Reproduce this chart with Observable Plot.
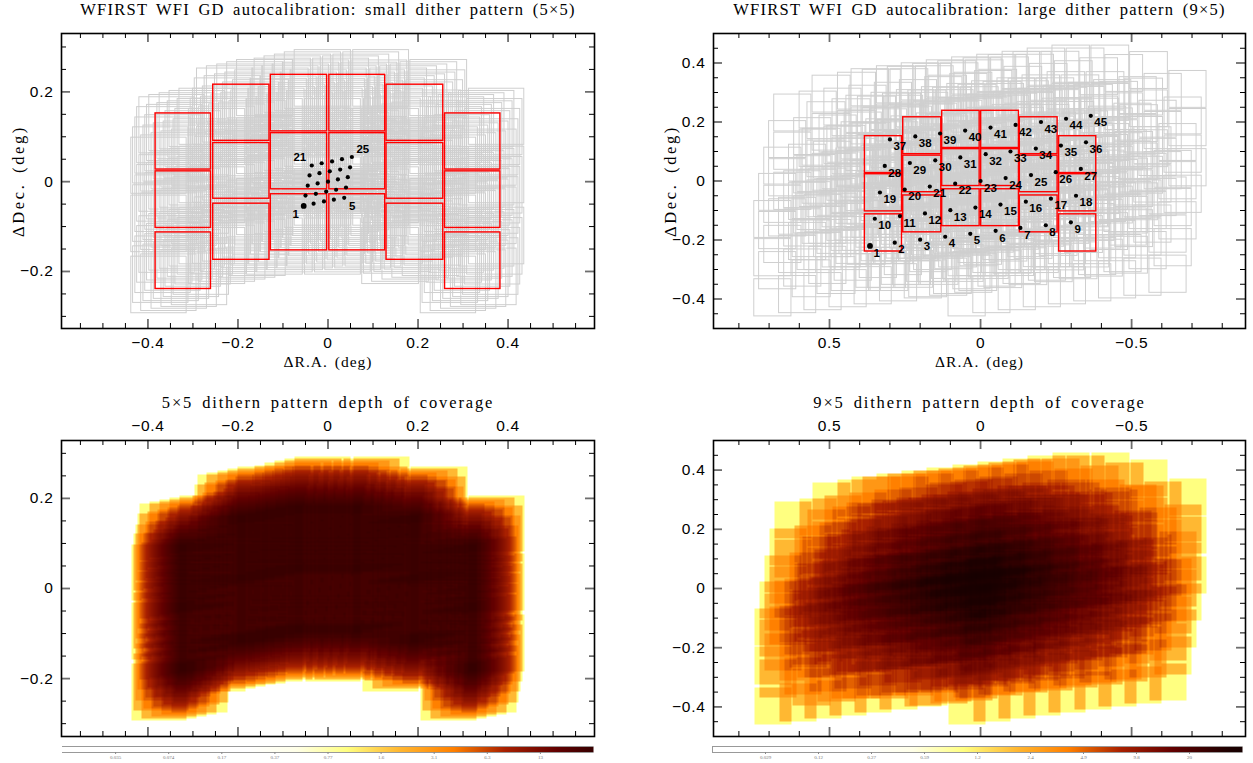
<!DOCTYPE html>
<html><head><meta charset="utf-8">
<script src="https://cdn.jsdelivr.net/npm/d3@7"></script>
<script src="https://cdn.jsdelivr.net/npm/@observablehq/plot@0.6"></script>
<style>
html,body{margin:0;padding:0;background:#fff}
#page{position:relative;width:1253px;height:763px;overflow:hidden}
.ttl text{letter-spacing:1.25px;word-spacing:3px}
.ttl2 text{letter-spacing:1.85px;word-spacing:3px}
.lab text{letter-spacing:1px;word-spacing:2px}
.laby text{letter-spacing:2.6px;word-spacing:3px}
.tk text{letter-spacing:.7px}
</style></head><body><div id="page"></div>
<script>
// Detector footprints (deg): left, right, bottom, top
const scaX1=[-0.383,-0.383,-0.383,-0.255,-0.255,-0.255,-0.127,-0.127,-0.127,0.003,0.003,0.003,0.130,0.130,0.130,0.260,0.260,0.260];
const scaX2=[-0.260,-0.260,-0.260,-0.130,-0.130,-0.130,-0.002,-0.002,-0.002,0.127,0.127,0.127,0.256,0.256,0.256,0.383,0.383,0.383];
const scaY1=[0.027,-0.103,-0.239,0.091,-0.038,-0.174,0.112,-0.017,-0.153,0.112,-0.017,-0.153,0.091,-0.038,-0.174,0.027,-0.103,-0.239];
const scaY2=[0.152,0.023,-0.113,0.216,0.086,-0.049,0.238,0.108,-0.028,0.238,0.108,-0.028,0.216,0.086,-0.049,0.152,0.023,-0.113];
// 5x5 small dither offsets (deg)
const smallDx=[-.054,-.032,-.009,.013,.036,-.050,-.027,-.004,.018,.040,-.045,-.023,0,.022,.044,-.041,-.019,.004,.027,.049,-.036,-.014,.009,.031,.053];
const smallDy=[-.054,-.049,-.044,-.040,-.036,-.031,-.027,-.022,-.018,-.013,-.009,-.004,0,.005,.010,.014,.019,.023,.027,.032,.036,.041,.045,.050,.055];
const smallLabelled=[1,5,21,25];
const smallLabelDx=[-8,8,-12,11];
const smallLabelDy=[8,8,-8,-8];
// 9x5 large dither offsets (deg)
const largeDx=[.366,.284,.200,.117,.034,-.050,-.132,-.216,-.299,.350,.267,.184,.100,.017,-.066,-.150,-.233,-.316,.333,.251,.168,.084,0,-.083,-.167,-.249,-.332,.317,.234,.150,.067,-.017,-.099,-.183,-.266,-.349,.300,.216,.134,.051,-.033,-.116,-.200,-.283,-.365];
const largeDy=[-.220,-.209,-.199,-.189,-.179,-.169,-.159,-.150,-.140,-.128,-.119,-.110,-.099,-.090,-.080,-.070,-.060,-.050,-.039,-.029,-.019,-.009,0,.010,.020,.030,.041,.051,.061,.070,.080,.091,.100,.110,.120,.131,.141,.151,.161,.171,.181,.190,.200,.211,.221];
// Axis ticks
const smallXMajor=[-.4,-.2,0,.2,.4];
const smallXMinor=[-.55,-.5,-.45,-.35,-.3,-.25,-.15,-.1,-.05,.05,.1,.15,.25,.3,.35,.45,.5,.55];
const smallYMajor=[-.2,0,.2];
const smallYMinor=[-.3,-.25,-.15,-.1,-.05,.05,.1,.15,.25,.3];
const largeXMajor=[.5,0,-.5];
const largeXMinor=[.8,.7,.6,.4,.3,.2,.1,-.1,-.2,-.3,-.4,-.6,-.7,-.8];
const largeYMajor=[-.4,-.2,0,.2,.4];
const largeYMinor=[-.45,-.35,-.3,-.25,-.15,-.1,-.05,.05,.1,.15,.25,.3,.35,.45];
// Colour bars
const barFractions=[.1,.2,.3,.4,.5,.6,.7,.8,.9];
const bar5Labels=["0.035","0.074","0.17","0.37","0.77","1.6","3.1","6.3","13"];
const bar9Labels=["0.029","0.12","0.27","0.59","1.2","2.4","4.9","9.8","20"];
const bar5Values=[.016,.035,.074,.17,.37,.77,1.6,3.1,6.3,13,25];
const bar9Values=[.012,.029,.12,.27,.59,1.2,2.4,4.9,9.8,20,38];
const depthStops=["#ffffff","#ffffe8","#ffff80","#ffb832","#ff8000","#a82000","#620000","#1e0000","#000000"];
const depthDomain=[.25,64];

const sans='"Liberation Sans",sans-serif', serif='"Liberation Serif",serif';
const depthColor={type:"log",domain:depthDomain,interpolate:d3.piecewise(d3.interpolateRgb,depthStops)};
const page=document.getElementById("page");
const fmt=d=>d===0?"0":String(d).replace("-","\u2212");

function footprints(dx,dy){
  const out=[];
  dx.forEach((ox,k)=>scaX1.forEach((_,i)=>out.push({x1:scaX1[i]+ox,x2:scaX2[i]+ox,y1:scaY1[i]+dy[k],y2:scaY2[i]+dy[k]})));
  return out;
}
const base=scaX1.map((_,i)=>({x1:scaX1[i],x2:scaX2[i],y1:scaY1[i],y2:scaY2[i]}));

function frameMarks(xMajor,xMinor,yMajor,yMinor,H,W,labelSide){
  const m=[],grey={stroke:"#6e6e6e",strokeWidth:1.8},blk={stroke:"#000",strokeWidth:1};
  m.push(Plot.tickX(xMinor,{x:d=>d,insetBottom:H-5,...blk}),Plot.tickX(xMinor,{x:d=>d,insetTop:H-5,...blk}));
  m.push(Plot.tickX(xMajor,{x:d=>d,insetBottom:H-9,...grey}),Plot.tickX(xMajor,{x:d=>d,insetTop:H-9,...grey}));
  m.push(Plot.tickY(yMinor,{y:d=>d,insetRight:W-5,...blk}),Plot.tickY(yMinor,{y:d=>d,insetLeft:W-5,...blk}));
  m.push(Plot.tickY(yMajor,{y:d=>d,insetRight:W-9,...grey}),Plot.tickY(yMajor,{y:d=>d,insetLeft:W-9,...grey}));
  m.push(Plot.frame({stroke:"#000",strokeWidth:1.6}));
  m.push(Plot.axisX(xMajor,{anchor:labelSide,tickSize:0,tickPadding:labelSide==="top"?10:8,label:null,fontSize:15.5,fontFamily:sans,className:"tk",tickFormat:fmt}));
  m.push(Plot.axisY(yMajor,{anchor:"left",tickSize:0,tickPadding:8,label:null,fontSize:15.5,fontFamily:sans,className:"tk",tickFormat:fmt}));
  return m;
}
function titleMark(t,dy,cls){return Plot.text([t],{frameAnchor:"top",dy:dy,fontSize:16.5,fontFamily:serif,className:cls,text:d=>d,fill:"#000"});}
function xLabel(){return Plot.text(["\u0394R.A. (deg)"],{frameAnchor:"bottom",dy:38,fontSize:15.5,fontFamily:serif,className:"lab",text:d=>d});}
function yLabel(dx){return Plot.text(["\u0394Dec. (deg)"],{frameAnchor:"left",textAnchor:"middle",dx:dx,rotate:-90,fontSize:16.5,fontFamily:serif,className:"laby",text:d=>d});}

function place(svg,l,t){svg.style.position="absolute";svg.style.left=l+"px";svg.style.top=t+"px";svg.style.overflow="visible";svg.style.background="transparent";page.appendChild(svg);}

function topPanel(o){
  const W=o.fr-o.fl,H=328-33;
  const svg=Plot.plot({width:W+o.fl-o.left+20,height:H+33+50,marginLeft:o.fl-o.left,marginRight:20,marginTop:33,marginBottom:50,
    x:{domain:o.xd,axis:null},y:{domain:o.yd,axis:null},
    marks:[
      Plot.rect(footprints(o.dx,o.dy),{x1:"x1",x2:"x2",y1:"y1",y2:"y2",fill:"none",stroke:"#cfcfcf",strokeWidth:1}),
      Plot.rect(base,{x1:"x1",x2:"x2",y1:"y1",y2:"y2",fill:"none",stroke:"#ff0000",strokeWidth:1.4}),
      ...o.extra,
      ...frameMarks(o.xMaj,o.xMin,o.yMaj,o.yMin,H,W,"bottom"),
      titleMark(o.title,-30,"ttl"),xLabel(),yLabel(o.ylab)
    ]});
  place(svg,o.left,0);
}
function depthPanel(o){
  const W=o.fr-o.fl,H=736-440;
  const rects=footprints(o.dx,o.dy);
  const X1=rects.map(r=>r.x1),X2=rects.map(r=>r.x2),Y1=rects.map(r=>r.y1),Y2=rects.map(r=>r.y2);
  const count=(x,y)=>{let c=0;for(let i=0;i<X1.length;i++){if(x>=X1[i]&&x<X2[i]&&y>=Y1[i]&&y<Y2[i])c++;}return c>0?c:NaN;};
  const svg=Plot.plot({width:W+o.fl-o.left+20,height:H+45+10,marginLeft:o.fl-o.left,marginRight:20,marginTop:45,marginBottom:10,
    x:{domain:o.xd,axis:null},y:{domain:o.yd,axis:null},color:depthColor,
    marks:[
      Plot.raster({fill:count,x1:o.xd[0],x2:o.xd[1],y1:o.yd[0],y2:o.yd[1],pixelSize:1}),
      ...frameMarks(o.xMaj,o.xMin,o.yMaj,o.yMin,H,W,"top"),
      titleMark(o.title,-44,"ttl2")
    ]});
  place(svg,o.left,395);
}
function colourBar(o){
  const fr=d3.range(o.values.length).map(i=>i/(o.values.length-1));
  const val=d3.scaleLog().domain(o.values).range(fr);
  const W=o.fr-o.fl;
  const svg=Plot.plot({width:W+o.fl-o.left+20,height:23,marginLeft:o.fl-o.left,marginRight:20,marginTop:6,marginBottom:11,
    x:{domain:[0,1],axis:null},y:{domain:[0,1],axis:null},color:depthColor,
    marks:[
      Plot.raster({fill:(t)=>val.invert(t),x1:0,x2:1,y1:0,y2:1,pixelSize:1}),
      Plot.ruleY([0,1],{stroke:"#999",strokeWidth:1}),
      o.closed?Plot.ruleX([0],{stroke:"#999",strokeWidth:1}):null,
      Plot.axisX(barFractions,{anchor:"bottom",tickSize:2,tickPadding:1,label:null,fontSize:5,stroke:"#888",color:"#777",fontFamily:serif,tickFormat:d=>o.labels[barFractions.indexOf(d)]})
    ]});
  place(svg,o.left,740);
}

const xs1=[-.592,.592],ys1=[-.327,.33],ys3=[-.3285,.3285];
const xs2=[.884,-.877],ys2=[-.5,.5];

const smallPts=smallDx.map((x,i)=>({x,y:smallDy[i],n:i+1}));
const largePts=largeDx.map((x,i)=>({x,y:largeDy[i],n:i+1}));

topPanel({left:0,fl:61,fr:594,xd:xs1,yd:ys1,dx:smallDx,dy:smallDy,xMaj:smallXMajor,xMin:smallXMinor,yMaj:smallYMajor,yMin:smallYMinor,
  title:"WFIRST WFI GD autocalibration: small dither pattern (5\u00d75)",ylab:-43,
  extra:[
    Plot.dot(smallPts,{x:"x",y:"y",r:2.1,fill:"#000",stroke:"none"}),
    Plot.dot([smallPts[0]],{x:"x",y:"y",r:2.9,fill:"#000",stroke:"none"}),
    ...smallLabelled.map((n,i)=>Plot.text([smallPts[n-1]],{x:"x",y:"y",text:d=>String(d.n),dx:smallLabelDx[i],dy:smallLabelDy[i],fontSize:11.5,fontWeight:700,fontFamily:sans,fill:"#000"}))
  ]});
topPanel({left:640,fl:713,fr:1245,xd:xs2,yd:ys2,dx:largeDx,dy:largeDy,xMaj:largeXMajor,xMin:largeXMinor,yMaj:largeYMajor,yMin:largeYMinor,
  title:"WFIRST WFI GD autocalibration: large dither pattern (9\u00d75)",ylab:-43,
  extra:[
    Plot.dot(largePts,{x:"x",y:"y",r:2.1,fill:"#000",stroke:"none"}),
    Plot.dot([largePts[0]],{x:"x",y:"y",r:2.9,fill:"#000",stroke:"none"}),
    Plot.text(largePts,{x:"x",y:"y",text:d=>String(d.n),dx:3.5,dy:7,textAnchor:"start",fontSize:11.5,fontWeight:700,fontFamily:sans,fill:"#000"})
  ]});
depthPanel({left:0,fl:61,fr:594,xd:xs1,yd:ys3,dx:smallDx,dy:smallDy,xMaj:smallXMajor,xMin:smallXMinor,yMaj:smallYMajor,yMin:smallYMinor,
  title:"5\u00d75 dithern pattern depth of coverage"});
depthPanel({left:640,fl:713,fr:1245,xd:xs2,yd:ys2,dx:largeDx,dy:largeDy,xMaj:largeXMajor,xMin:largeXMinor,yMaj:largeYMajor,yMin:largeYMinor,
  title:"9\u00d75 dithern pattern depth of coverage"});
colourBar({left:0,fl:62,fr:593,values:bar5Values,labels:bar5Labels,closed:false});
colourBar({left:640,fl:712,fr:1242,values:bar9Values,labels:bar9Labels,closed:true});
</script></body></html>
